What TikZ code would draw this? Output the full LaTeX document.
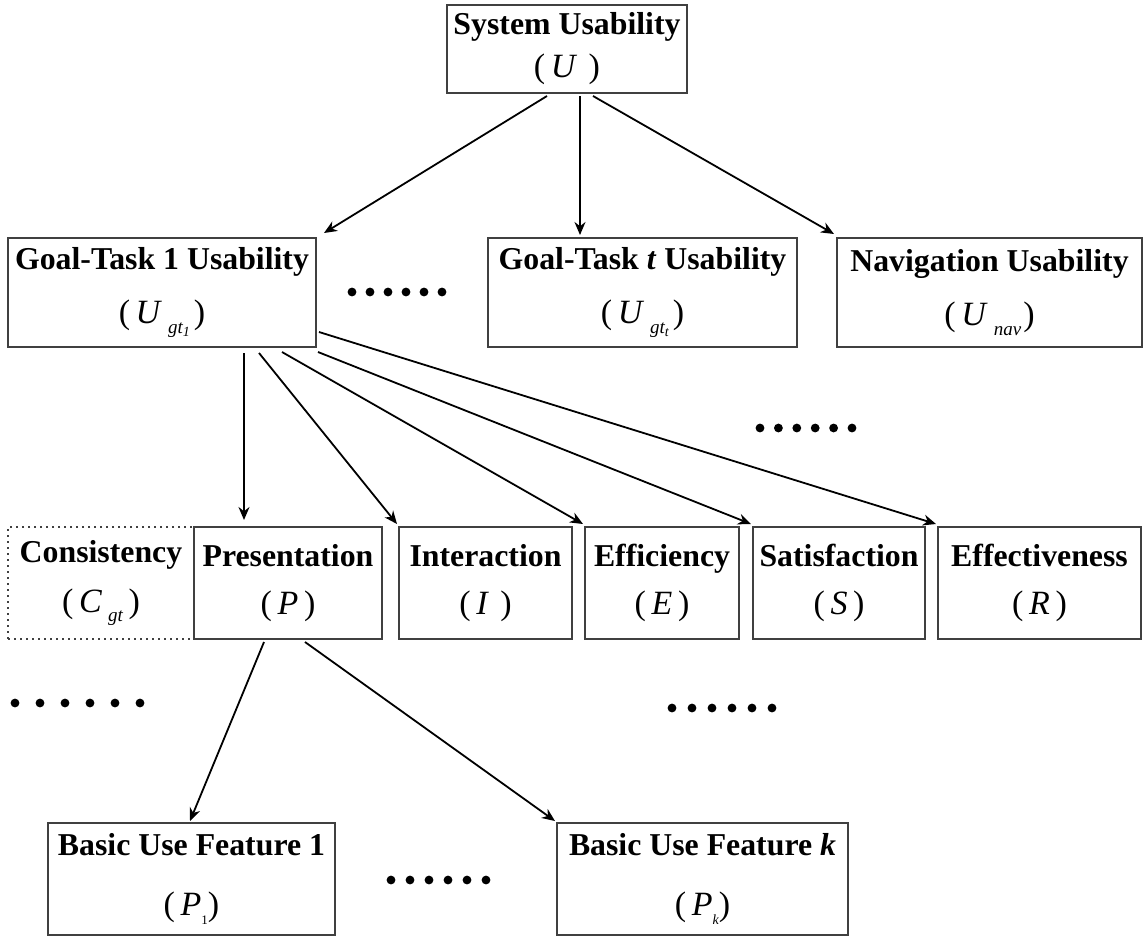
\documentclass[tikz,border=0pt]{standalone}
\usepackage{fontspec}
\setmainfont{Liberation Serif}
\usetikzlibrary{arrows.meta,calc}
\definecolor{edgegray}{HTML}{404040}
% symbol line, set a little larger than the titles
\newcommand\mth[1]{{\fontsize{17}{19}\selectfont #1}}
% italic subscript, lowered
\newcommand\sbs[1]{\raisebox{-0.6ex}{\fontsize{9.5}{9.5}\selectfont\itshape #1}}
% second-level subscript
\newcommand\ssbs[1]{\raisebox{-0.4ex}{\fontsize{7}{7}\selectfont #1}}
\begin{document}
\begin{tikzpicture}[x=0.5pt,y=-0.5pt,
  box/.style 2 args={draw=edgegray, line width=1pt,
    minimum width=#1*0.5pt, minimum height=#2*0.5pt,
    inner sep=0pt, align=center, font=\fontsize{15.9}{19}\selectfont},
  dotbox/.style 2 args={box={#1}{#2}, dotted, line width=0.8pt},
  link/.style={draw=black, line width=0.9pt, -{Stealth[length=6.5pt,width=5.5pt]}},
  dot/.style={fill=black}
]
\useasboundingbox (0,0) rectangle (1144,937);

% top level
\node[box={240}{88}] (sys) at (567,49)
  {\bfseries System Usability\\[2.5pt]\mth{(\,\textit{U}\,\,)}};

% goal-task and navigation level
\node[box={308}{109}] (gt1) at (162,292.5)
  {\bfseries Goal-Task 1 Usability\\[8pt]\mth{(\,\textit{U}\hspace{3pt}\sbs{gt\ssbs{1}}\hspace{2pt})}};
\node[box={309}{109}] (gtt) at (642.5,292.5)
  {\bfseries Goal-Task \textit{t} Usability\\[8pt]\mth{(\,\textit{U}\hspace{3pt}\sbs{gt\ssbs{\itshape t}}\hspace{2pt})}};
\node[box={305}{109}] (nav) at (989.5,292.5)
  {\bfseries Navigation Usability\\[8pt]\mth{(\,\textit{U}\hspace{3pt}\sbs{nav}\hspace{1pt})}};

% quality factors
\node[dotbox={186}{112}] (cons) at (101,583)
  {\bfseries Consistency\\[6pt]\mth{(\,\textit{C}\hspace{3pt}\sbs{gt}\,)}};
\node[box={188}{112}] (pres) at (288,583)
  {\bfseries Presentation\\[5pt]\mth{(\,\textit{P}\,)}};
\node[box={173}{112}] (inter) at (485.5,583)
  {\bfseries Interaction\\[5pt]\mth{(\,\textit{I}\,\,)}};
\node[box={154}{112}] (effi) at (662,583)
  {\bfseries Efficiency\\[5pt]\mth{(\,\textit{E}\,)}};
\node[box={172}{112}] (sat) at (839,583)
  {\bfseries Satisfaction\\[5pt]\mth{(\,\textit{S}\,)}};
\node[box={203}{112}] (effe) at (1039.5,583)
  {\bfseries Effectiveness\\[5pt]\mth{(\,\textit{R}\,)}};

% basic use features
\node[box={287}{112}] (buf1) at (191.5,879)
  {\bfseries Basic Use Feature 1\\[11pt]\mth{(\,\textit{P}\raisebox{-0.6ex}{\fontsize{6.5}{6.5}\selectfont 1})}};
\node[box={291}{112}] (bufk) at (702.5,879)
  {\bfseries Basic Use Feature \textit{k}\\[11pt]\mth{(\,\textit{P}\raisebox{-0.6ex}{\fontsize{7}{7}\selectfont\itshape k})}};

% connectors
\draw[link] ($(sys.south west)+(101,2)$) -- ($(gt1.north east)+(7,-4)$);
\draw[link] ($(sys.south west)+(134,2)$) -- ($(gtt.north west)+(93,-2)$);
\draw[link] ($(sys.south west)+(147,2)$) -- ($(nav.north west)+(-2,-3)$);

\draw[link] ($(gt1.south west)+(237,5)$) -- ($(pres.north west)+(51,-6)$);
\draw[link] ($(gt1.south west)+(252,5)$) -- ($(inter.north west)+(-1,-2)$);
\draw[link] ($(gt1.south west)+(275,4)$) -- ($(effi.north west)+(-1,-2)$);
\draw[link] ($(gt1.south east)+(1,4)$) -- ($(sat.north west)+(-1,-2)$);
\draw[link] ($(gt1.east)+(2,39.5)$) -- ($(effe.north west)+(-1,-2)$);

\draw[link] ($(pres.south west)+(71,2)$) -- ($(buf1.north)+(-1.5,-1)$);
\draw[link] ($(pres.south west)+(112,2)$) -- ($(bufk.north west)+(-1,-1)$);

% ellipsis dots
\foreach \i in {0,...,5} {
  \fill[dot] (352+18*\i,292) circle (2.2pt);
  \fill[dot] (760+18.4*\i,428) circle (2.2pt);
  \fill[dot] (15+25*\i,703) circle (2.2pt);
  \fill[dot] (672+20*\i,708) circle (2.2pt);
  \fill[dot] (391+19*\i,880) circle (2.2pt);
}
\end{tikzpicture}
\end{document}
